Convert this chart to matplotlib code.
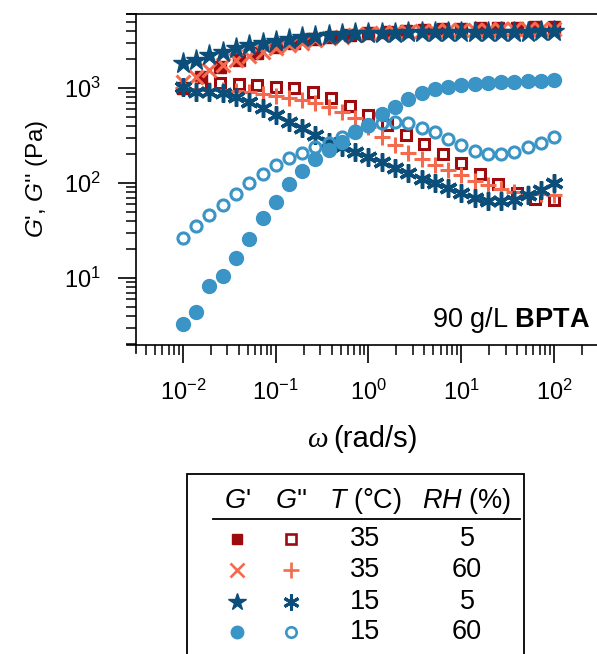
import numpy as np
import matplotlib
matplotlib.use("Agg")
import matplotlib.pyplot as plt
from matplotlib.lines import Line2D
from matplotlib.patches import Rectangle
from matplotlib.ticker import LogLocator, NullFormatter

plt.rcParams['font.family'] = ['Liberation Sans', 'DejaVu Sans']
plt.rcParams['mathtext.fontset'] = 'custom'
plt.rcParams['mathtext.rm'] = 'Liberation Sans'
plt.rcParams['mathtext.it'] = 'Liberation Sans:italic'
plt.rcParams['mathtext.bf'] = 'Liberation Sans:bold'
plt.rcParams['axes.unicode_minus'] = False

# ---- data ----
omega_7 = [0.01, 0.0139, 0.0193, 0.0268, 0.0373, 0.0518, 0.072, 0.1, 0.139, 0.193,
           0.268, 0.373, 0.518, 0.72, 1.0, 1.39, 1.93, 2.68, 3.73, 5.18, 7.2, 10.0,
           13.9, 19.3, 26.8, 37.3, 51.8, 72.0, 100.0]
omega_5 = [0.01, 0.0158, 0.0251, 0.0398, 0.0631, 0.1, 0.158, 0.251, 0.398, 0.631,
           1.0, 1.58, 2.51, 3.98, 6.31, 10.0, 15.8, 25.1, 39.8, 63.1, 100.0]

# 35 C, 5 % RH (5 points/decade)
Gp_35_5 = [1000, 1300, 1650, 1980, 2350, 2700, 3000, 3250, 3450, 3650, 3800,
           3900, 4000, 4080, 4150, 4200, 4250, 4300, 4330, 4350, 4380]
Gpp_35_5 = [1000, 1080, 1120, 1100, 1075, 1030, 990, 914, 790, 647, 520,
            408, 320, 258, 202, 161, 125, 97, 78, 68, 66]
# 35 C, 60 % RH
Gp_35_60 = [1165, 1315, 1547, 1746, 1972, 2173, 2411, 2616, 2838, 3000, 3199,
            3334, 3467, 3611, 3700, 3780, 3850, 3900, 3950, 4000, 4030, 4060,
            4090, 4110, 4130, 4150, 4170, 4190, 4210]
Gpp_35_60 = [1000, 980, 960, 950, 937, 914, 865, 824, 790, 748, 690, 627, 564,
             480, 385, 307, 251, 205, 177, 155, 137, 121, 106, 95, 86, 81, 78, 77, 75]
# 15 C, 5 % RH
Gp_15_5 = [1820, 1972, 2223, 2411, 2616, 2838, 3000, 3148, 3283, 3421, 3526,
           3611, 3700, 3767, 3790, 3810, 3830, 3840, 3850, 3860, 3870, 3880,
           3890, 3900, 3910, 3920, 3930, 3940, 3950]
Gpp_15_5 = [1032, 914, 914, 879, 810, 717, 611, 520, 442, 377, 320, 272, 240,
            212, 189, 167, 145, 127, 109, 99, 88, 79, 69, 65, 64, 66, 75, 84, 99]
# 15 C, 60 % RH
Gp_15_60 = [3.3, 4.4, 8.3, 10.5, 16.1, 25.9, 42.5, 63.5, 96.8, 134, 177, 222,
            272, 347, 408, 532, 636, 771, 879, 969, 1017, 1067, 1102, 1120,
            1148, 1165, 1185, 1194, 1205]
Gpp_15_60 = [26.5, 35.6, 46, 58.7, 76, 99, 124, 155, 182, 209, 238, 265, 305,
             350, 395, 430, 441, 425, 376, 342, 289, 251, 219, 202, 202, 210,
             241, 262, 307]

legend_T = ['35', '35', '15', '15']
legend_RH = ['5', '60', '5', '60']

c_dred = '#9E0B0F'
c_orng = '#F46A4E'
c_dblu = '#0C4E7A'
c_lblu = '#3A94C5'

W, H = 597, 654
fig = plt.figure(figsize=(W / 100, H / 100), dpi=100)

def fx(px):
    return px / W

def fy(py):
    return 1 - py / H

ax_left, ax_right, ax_top, ax_bot = 136, 597, 14, 345
ax = fig.add_axes([fx(ax_left), fy(ax_bot), fx(ax_right - ax_left), (ax_bot - ax_top) / H])
ax.set_xscale('log')
ax.set_yscale('log')

ax.plot(omega_5, Gp_35_5, ls='none', marker='s', ms=8.5, color=c_dred, mec=c_dred)
ax.plot(omega_5, Gpp_35_5, ls='none', marker='s', ms=7.8, mfc='none', mec=c_dred, mew=2.2)
ax.plot(omega_7, Gp_35_60, ls='none', marker='x', ms=10.5, color=c_orng, mew=2.2)
ax.plot(omega_7, Gpp_35_60, ls='none', marker='+', ms=11.5, color=c_orng, mew=2.2)
ax.plot(omega_7, Gp_15_5, ls='none', marker='*', ms=15.5, color=c_dblu, mec=c_dblu)
ax.plot(omega_7, Gpp_15_5, ls='none', marker=(6, 2, 0), ms=13, color=c_dblu, mew=2.5)
ax.plot(omega_7, Gp_15_60, ls='none', marker='o', ms=10, color=c_lblu, mec=c_lblu)
ax.plot(omega_7, Gpp_15_60, ls='none', marker='o', ms=8, mfc='none', mec=c_lblu, mew=2.2)

lx0 = -2 - (183 - ax_left) / 92.8
lx1 = 2 + (ax_right - 554) / 92.8
ax.set_xlim(10 ** lx0, 10 ** lx1)
ly1 = 3 + (88 - ax_top) / 95
ly0 = 1 - (ax_bot - 278) / 95
ax.set_ylim(10 ** ly0, 10 ** ly1)

ax.spines['right'].set_visible(False)
for s in ['left', 'bottom', 'top']:
    ax.spines[s].set_linewidth(1.2)
ax.xaxis.set_major_locator(LogLocator(base=10, numticks=10))
ax.xaxis.set_minor_locator(LogLocator(base=10, subs=np.arange(2, 10), numticks=20))
ax.yaxis.set_major_locator(LogLocator(base=10, numticks=10))
ax.yaxis.set_minor_locator(LogLocator(base=10, subs=np.arange(2, 10), numticks=20))
ax.xaxis.set_minor_formatter(NullFormatter())
ax.yaxis.set_minor_formatter(NullFormatter())
ax.tick_params(which='major', direction='out', length=13, width=1.2, labelsize=17, pad=12,
               top=False, right=False)
ax.tick_params(which='minor', direction='out', length=7, width=1.1, top=False, right=False)

# small spine extensions at the corners
ext_x = 9 / (ax_right - ax_left)
ext_y = 8 / (ax_bot - ax_top)
for yy in (0, 1):
    ax.plot([-ext_x, 0], [yy, yy], transform=ax.transAxes, color='black', lw=1.2, clip_on=False)
ax.plot([0, 0], [0, -ext_y], transform=ax.transAxes, color='black', lw=1.2, clip_on=False)

# axis labels
fig.text(fx(328), fy(440), 'ω', fontsize=21, ha='right', va='center',
         family='Liberation Serif', style='italic')
fig.text(fx(333), fy(439), '(rad/s)', fontsize=21, ha='left', va='center')
fig.text(fx(37), fy(179), r"$G$', $G$'' (Pa)", rotation=90, fontsize=17.5,
         ha='center', va='center')

ax.text(0.985, 0.075, r'90 g/L $\mathbf{BPTA}$', transform=ax.transAxes,
        fontsize=19.5, ha='right', va='center')

# ---- legend table ----
box_l, box_r, box_t = 187, 524, 474
fig.add_artist(Rectangle((fx(box_l), fy(H + 10)), fx(box_r - box_l), (H + 10 - box_t) / H,
                         transform=fig.transFigure, fill=False, lw=1.3, ec='black'))
fig.add_artist(Line2D([fx(213), fx(520)], [fy(519), fy(519)], transform=fig.transFigure,
                      color='black', lw=1.3))
col_gp, col_gpp, col_T, col_RH = 237, 291, 365, 467
hdr_y = 501
fs = 19.5
fig.text(fx(col_gp), fy(hdr_y), r"$G$'", fontsize=fs, ha='center', va='center')
fig.text(fx(col_gpp), fy(hdr_y), r"$G$''", fontsize=fs, ha='center', va='center')
fig.text(fx(col_T), fy(hdr_y), r"$T$ (°C)", fontsize=fs, ha='center', va='center')
fig.text(fx(col_RH), fy(hdr_y), r"$RH$ (%)", fontsize=fs, ha='center', va='center')

row_y = [539, 570, 602, 632]
leg_markers = [
    (dict(marker='s', ms=7.5, color=c_dred, mec=c_dred),
     dict(marker='s', ms=7, mfc='none', mec=c_dred, mew=1.9)),
    (dict(marker='x', ms=10, color=c_orng, mew=1.9),
     dict(marker='+', ms=11, color=c_orng, mew=1.9)),
    (dict(marker='*', ms=13, color=c_dblu, mec=c_dblu),
     dict(marker=(6, 2, 0), ms=11.5, color=c_dblu, mew=2.2)),
    (dict(marker='o', ms=9, color=c_lblu, mec=c_lblu),
     dict(marker='o', ms=7.5, mfc='none', mec=c_lblu, mew=1.9)),
]
for k, ry in enumerate(row_y):
    m1, m2 = leg_markers[k]
    fig.add_artist(Line2D([fx(col_gp)], [fy(ry)], transform=fig.transFigure, ls='none', **m1))
    fig.add_artist(Line2D([fx(col_gpp)], [fy(ry)], transform=fig.transFigure, ls='none', **m2))
    fig.text(fx(col_T), fy(ry), legend_T[k], fontsize=fs, ha='center', va='center')
    fig.text(fx(col_RH), fy(ry), legend_RH[k], fontsize=fs, ha='center', va='center')

fig.savefig('out.png', dpi=100)
